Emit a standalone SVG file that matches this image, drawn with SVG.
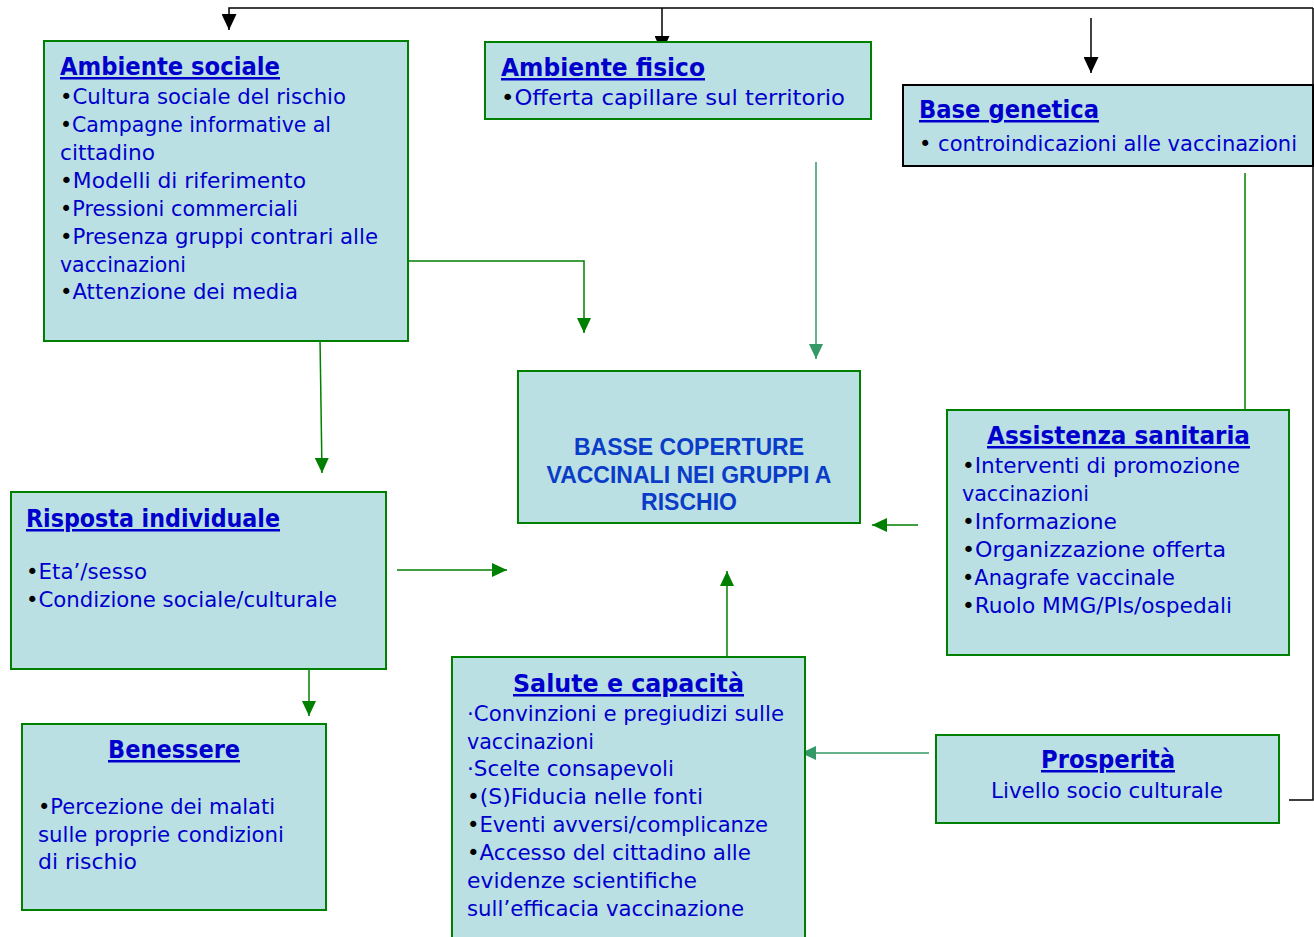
<svg xmlns="http://www.w3.org/2000/svg" width="1314" height="937" viewBox="0 0 1314 937">
<style>
.box{fill:#BBE0E3;stroke:#008000;stroke-width:2}
.boxk{fill:#BBE0E3;stroke:#000;stroke-width:2}
.t{font-family:"DejaVu Sans","Liberation Sans",sans-serif;font-size:21px;fill:#0000CC}
.h{font-family:"DejaVu Sans","Liberation Sans",sans-serif;font-size:25px;font-weight:bold;fill:#0000CC;text-decoration:underline}
.b{fill:#000}
.c{font-family:"Liberation Sans",Arial,sans-serif;font-size:23px;font-weight:bold;fill:#0A3CC8;text-anchor:middle}
.g{stroke:#008000;stroke-width:1.5;fill:none}
.s{stroke:#339966;stroke-width:1.5;fill:none}
.k{stroke:#000;stroke-width:1.5;fill:none}
</style>
<defs>
<marker id="ag" markerWidth="15" markerHeight="14" refX="15" refY="7" orient="auto" markerUnits="userSpaceOnUse"><path d="M0,0 L15,7 L0,14 Z" fill="#008000"/></marker>
<marker id="as" markerWidth="15" markerHeight="14" refX="15" refY="7" orient="auto" markerUnits="userSpaceOnUse"><path d="M0,0 L15,7 L0,14 Z" fill="#339966"/></marker>
<marker id="ak" markerWidth="16" markerHeight="15" refX="16" refY="7.5" orient="auto" markerUnits="userSpaceOnUse"><path d="M0,0 L16,7.5 L0,15 Z" fill="#000"/></marker>
</defs>

<g id="connectors">
<path class="k" d="M1313,8 L229,8 L229,30" marker-end="url(#ak)"/>
<path class="k" d="M662,8 L662,52" marker-end="url(#ak)"/>
<path class="k" d="M1091,18 L1091,73" marker-end="url(#ak)"/>
<path class="k" d="M1313,8 L1313,800 L1289,800"/>
<path class="g" d="M409,261 L584,261 L584,333" marker-end="url(#ag)"/>
<path class="g" d="M320,338 L322,473" marker-end="url(#ag)"/>
<path class="s" d="M816,162 L816,359" marker-end="url(#as)"/>
<path class="g" d="M1245,173 L1245,410"/>
<path class="g" d="M918,525 L872,525" marker-end="url(#ag)"/>
<path class="g" d="M397,570 L507,570" marker-end="url(#ag)"/>
<path class="g" d="M727,657 L727,571" marker-end="url(#ag)"/>
<path class="g" d="M309,669 L309,716" marker-end="url(#ag)"/>
<path class="s" d="M929,753 L801,753" marker-end="url(#as)"/>
</g>

<g id="ambiente-sociale">
<rect class="box" x="44" y="41" width="364" height="300"/>
<text class="h" x="60" y="75" textLength="220" lengthAdjust="spacingAndGlyphs">Ambiente  sociale</text>
<text class="t" x="60" y="104" textLength="286" lengthAdjust="spacingAndGlyphs"><tspan class="b">•</tspan>Cultura sociale del rischio</text>
<text class="t" x="60" y="132" textLength="271" lengthAdjust="spacingAndGlyphs"><tspan class="b">•</tspan>Campagne informative al</text>
<text class="t" x="60" y="160" textLength="95" lengthAdjust="spacingAndGlyphs">cittadino</text>
<text class="t" x="60" y="188" textLength="246" lengthAdjust="spacingAndGlyphs"><tspan class="b">•</tspan>Modelli di riferimento</text>
<text class="t" x="60" y="216" textLength="238" lengthAdjust="spacingAndGlyphs"><tspan class="b">•</tspan>Pressioni commerciali</text>
<text class="t" x="60" y="244" textLength="318" lengthAdjust="spacingAndGlyphs"><tspan class="b">•</tspan>Presenza gruppi contrari alle</text>
<text class="t" x="60" y="272" textLength="126" lengthAdjust="spacingAndGlyphs">vaccinazioni</text>
<text class="t" x="60" y="299" textLength="238" lengthAdjust="spacingAndGlyphs"><tspan class="b">•</tspan>Attenzione dei media</text>
</g>

<g id="ambiente-fisico">
<rect class="box" x="485" y="42" width="386" height="77"/>
<text class="h" x="501" y="76" textLength="204" lengthAdjust="spacingAndGlyphs">Ambiente  fisico</text>
<text class="t" x="501" y="105" textLength="344" lengthAdjust="spacingAndGlyphs"><tspan class="b">•</tspan>Offerta capillare sul territorio</text>
</g>

<g id="base-genetica">
<rect class="boxk" x="903" y="85" width="410" height="81"/>
<text class="h" x="919" y="118" textLength="180" lengthAdjust="spacingAndGlyphs">Base  genetica</text>
<text class="t" x="919" y="151" textLength="378" lengthAdjust="spacingAndGlyphs"><tspan class="b">•</tspan> controindicazioni alle vaccinazioni</text>
</g>

<g id="basse-coperture">
<rect class="box" x="518" y="371" width="342" height="152"/>
<text class="c" x="689" y="455">BASSE COPERTURE</text>
<text class="c" x="689" y="483">VACCINALI NEI GRUPPI A</text>
<text class="c" x="689" y="510">RISCHIO</text>
</g>

<g id="assistenza-sanitaria">
<rect class="box" x="947" y="410" width="342" height="245"/>
<text class="h" x="987" y="444" textLength="263" lengthAdjust="spacingAndGlyphs">Assistenza  sanitaria</text>
<text class="t" x="962" y="473" textLength="278" lengthAdjust="spacingAndGlyphs"><tspan class="b">•</tspan>Interventi di promozione</text>
<text class="t" x="962" y="501" textLength="127" lengthAdjust="spacingAndGlyphs">vaccinazioni</text>
<text class="t" x="962" y="529" textLength="155" lengthAdjust="spacingAndGlyphs"><tspan class="b">•</tspan>Informazione</text>
<text class="t" x="962" y="557" textLength="264" lengthAdjust="spacingAndGlyphs"><tspan class="b">•</tspan>Organizzazione offerta</text>
<text class="t" x="962" y="585" textLength="213" lengthAdjust="spacingAndGlyphs"><tspan class="b">•</tspan>Anagrafe vaccinale</text>
<text class="t" x="962" y="613" textLength="270" lengthAdjust="spacingAndGlyphs"><tspan class="b">•</tspan>Ruolo MMG/Pls/ospedali</text>
</g>

<g id="risposta-individuale">
<rect class="box" x="11" y="492" width="375" height="177"/>
<text class="h" x="26" y="527" textLength="254" lengthAdjust="spacingAndGlyphs">Risposta  individuale</text>
<text class="t" x="26" y="579" textLength="121" lengthAdjust="spacingAndGlyphs"><tspan class="b">•</tspan>Eta’/sesso</text>
<text class="t" x="26" y="607" textLength="311" lengthAdjust="spacingAndGlyphs"><tspan class="b">•</tspan>Condizione sociale/culturale</text>
</g>

<g id="benessere">
<rect class="box" x="22" y="724" width="304" height="186"/>
<text class="h" x="108" y="758" textLength="132" lengthAdjust="spacingAndGlyphs">Benessere</text>
<text class="t" x="38" y="814" textLength="237" lengthAdjust="spacingAndGlyphs"><tspan class="b">•</tspan>Percezione dei malati</text>
<text class="t" x="38" y="842" textLength="246" lengthAdjust="spacingAndGlyphs">sulle proprie condizioni</text>
<text class="t" x="38" y="869" textLength="99" lengthAdjust="spacingAndGlyphs">di rischio</text>
</g>

<g id="salute-capacita">
<rect class="box" x="452" y="657" width="353" height="290"/>
<text class="h" x="513" y="692" textLength="231" lengthAdjust="spacingAndGlyphs">Salute  e  capacità</text>
<text class="t" x="467" y="721" textLength="317" lengthAdjust="spacingAndGlyphs">·Convinzioni e pregiudizi sulle</text>
<text class="t" x="467" y="749" textLength="127" lengthAdjust="spacingAndGlyphs">vaccinazioni</text>
<text class="t" x="467" y="776" textLength="207" lengthAdjust="spacingAndGlyphs">·Scelte consapevoli</text>
<text class="t" x="467" y="804" textLength="236" lengthAdjust="spacingAndGlyphs"><tspan class="b">•</tspan>(S)Fiducia nelle fonti</text>
<text class="t" x="467" y="832" textLength="301" lengthAdjust="spacingAndGlyphs"><tspan class="b">•</tspan>Eventi avversi/complicanze</text>
<text class="t" x="467" y="860" textLength="284" lengthAdjust="spacingAndGlyphs"><tspan class="b">•</tspan>Accesso del cittadino alle</text>
<text class="t" x="467" y="888" textLength="230" lengthAdjust="spacingAndGlyphs">evidenze scientifiche</text>
<text class="t" x="467" y="916" textLength="277" lengthAdjust="spacingAndGlyphs">sull’efficacia vaccinazione</text>
</g>

<g id="prosperita">
<rect class="box" x="936" y="735" width="343" height="88"/>
<text class="h" x="1041" y="768" textLength="134" lengthAdjust="spacingAndGlyphs">Prosperità</text>
<text class="t" x="991" y="798" textLength="232" lengthAdjust="spacingAndGlyphs">Livello socio culturale</text>
</g>
</svg>
